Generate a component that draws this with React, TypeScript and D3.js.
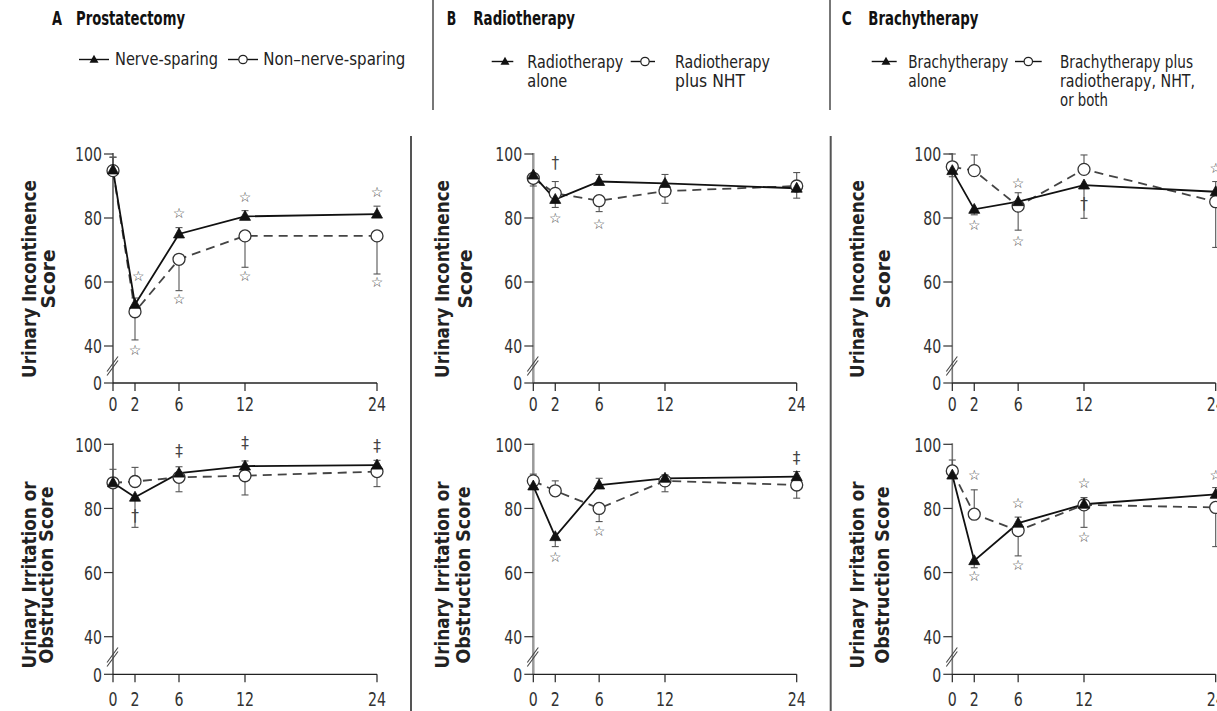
import React from "react";
import * as d3 from "d3";

// ---------- data ----------
const months = [0, 2, 6, 12, 24];
const yTickValues = [0, 40, 60, 80, 100];

// Panel A – Prostatectomy (triangle = nerve-sparing, circle = non-nerve-sparing)
const aIncTri = [95, 53, 75, 80.5, 81.2];
const aIncTriErr = [99, 55, 77, 82.3, 83.7];
const aIncCirc = [94.8, 50.7, 67.1, 74.4, 74.4];
const aIncCircErr = [99, 41.9, 57.3, 64.6, 62.5];
const aIrrTri = [88, 83.5, 91, 93.2, 93.5];
const aIrrTriErr = [92.2, 74.1, 93, 94.8, 95];
const aIrrCirc = [88, 88.4, 89.7, 90.2, 91.5];
const aIrrCircErr = [null, 92.8, 85.2, 84.2, 86.8];

// Panel B – Radiotherapy (triangle = alone, circle = plus NHT)
const bIncTri = [93.4, 85.8, 91.4, 90.8, 89.3];
const bIncTriErr = [null, 83.3, 93.6, 93.6, 86.2];
const bIncCirc = [92.4, 87.7, 85.4, 88.4, 90];
const bIncCircErr = [90, 91.4, 82, 84.6, 94.2];
const bIrrTri = [87, 71.2, 87.3, 89.4, 89.9];
const bIrrTriErr = [null, 68.1, 89.4, 90.5, 91.5];
const bIrrCirc = [88.6, 85.5, 80, 88.6, 87.3];
const bIrrCircErr = [90.7, 88.6, 75.9, 85.2, 83.2];

// Panel C – Brachytherapy (triangle = alone, circle = plus radiotherapy/NHT)
const cIncTri = [94.8, 82.7, 85.1, 90.3, 88.2];
const cIncTriErr = [92.9, 81, 87.9, 79.9, 91.4];
const cIncCirc = [96.0, 94.8, 83.7, 95.2, 85.1];
const cIncCircErr = [100, 99.7, 76.2, 99.7, 70.8];
const cIrrTri = [90.4, 63.7, 75.4, 81.3, 84.4];
const cIrrTriErr = [null, 61.5, 77.3, 83.4, 86.5];
const cIrrCirc = [91.7, 78.2, 73.1, 81.1, 80.3];
const cIrrCircErr = [95.1, 85.8, 65.2, 74.1, 68.1];

// significance marks: month position, value position, symbol
const aIncMarks = [
  { m: 2.3, v: 62, s: "*" }, { m: 2, v: 35.7, s: "*" },
  { m: 6, v: 81.6, s: "*" }, { m: 6, v: 54.7, s: "*" },
  { m: 12, v: 86.7, s: "*" }, { m: 12, v: 62, s: "*" },
  { m: 24, v: 88, s: "*" }, { m: 24, v: 60.1, s: "*" },
];
const aIrrMarks = [
  { m: 2, v: 77.6, s: "†" }, { m: 6, v: 98, s: "‡" },
  { m: 12, v: 100.3, s: "‡" }, { m: 24, v: 99.5, s: "‡" },
];
const bIncMarks = [
  { m: 2, v: 97.2, s: "†" }, { m: 2, v: 79.9, s: "*" }, { m: 6, v: 78, s: "*" },
];
const bIrrMarks = [
  { m: 2, v: 65, s: "*" }, { m: 6, v: 73.1, s: "*" }, { m: 24, v: 95.6, s: "‡" },
];
const cIncMarks = [
  { m: 2, v: 77.8, s: "*" }, { m: 6, v: 91, s: "*" }, { m: 6, v: 72.8, s: "*" },
  { m: 12, v: 84.4, s: "†" }, { m: 24, v: 95.5, s: "*" },
];
const cIrrMarks = [
  { m: 2, v: 58.8, s: "*" }, { m: 2, v: 90.4, s: "*" },
  { m: 6, v: 81.6, s: "*" }, { m: 6, v: 62.4, s: "*" },
  { m: 12, v: 87.9, s: "*" }, { m: 12, v: 71.2, s: "*" },
  { m: 24, v: 90.4, s: "*" },
];

const incLabel = ["Urinary Incontinence", "Score"];
const irrLabel = ["Urinary Irritation or", "Obstruction Score"];

// ---------- layout ----------
const FONT = "'Liberation Sans Narrow', 'Arial Narrow', 'DejaVu Sans Condensed', 'Liberation Sans', sans-serif";

const columns = [
  { x0: 113, x1: 377, axisColor: "#333", axisW: 1.3, lab: [[36, 55], [36, 52.5]] },
  { x0: 533.3, x1: 796.7, axisColor: "#9a9a9a", axisW: 2.5, lab: [[448.5, 471.7], [449, 470]] },
  { x0: 952.3, x1: 1215.7, axisColor: "#777", axisW: 1.6, lab: [[864, 890], [864, 889]] },
];
const rows = [
  { y0: 383, y40: 346, y100: 154, tickBase: 411, labelCy: 279 },
  { y0: 674.3, y40: 636.7, y100: 444.3, tickBase: 706, labelCy: 575 },
];

type Mark = { m: number; v: number; s: string };

function triPath(cx: number, cy: number, s: number) {
  const h = s * 0.9;
  return `M${cx},${cy - h * 0.6}L${cx + s / 2},${cy + h * 0.4}L${cx - s / 2},${cy + h * 0.4}Z`;
}

function Panel(props: {
  ci: number; ri: number;
  tri: number[]; triErr: (number | null)[];
  circ: number[]; circErr: (number | null)[];
  marks: Mark[]; label: string[]; labelLens: number[];
}) {
  const col = columns[props.ci];
  const row = rows[props.ri];
  const x = d3.scaleLinear().domain([0, 24]).range([col.x0, col.x1]);
  const y = d3.scaleLinear().domain([0, 40, 100]).range([row.y0, row.y40, row.y100]);
  const line = d3.line<number>().x((_, i) => x(months[i])).y((d) => y(d));
  const lab = col.lab[props.ri];
  const cy = (row.y40 + row.y0) / 2 + 1;
  return (
    <g>
      {/* y label */}
      {props.label.map((t, i) => (
        <text key={t} transform={`translate(${lab[i]},${row.labelCy}) rotate(-90)`}
          textAnchor="middle" fontFamily={FONT} fontWeight="bold" fontSize={19} fill="#222"
          textLength={props.labelLens[i]} lengthAdjust="spacingAndGlyphs">{t}</text>
      ))}
      {/* y axis */}
      <line x1={col.x0} x2={col.x0} y1={row.y0} y2={row.y100 - 1} stroke={col.axisColor} strokeWidth={col.axisW} />
      {yTickValues.map((v) => (
        <g key={v}>
          <line x1={col.x0 - 9} x2={col.x0} y1={y(v)} y2={y(v)} stroke="#333" strokeWidth={1.2} />
          <text x={col.x0 - 11} y={y(v)} dy="0.36em" textAnchor="end" fontFamily={FONT} fontSize={20} fill="#333"
            textLength={String(v).length * 9} lengthAdjust="spacingAndGlyphs">{v}</text>
        </g>
      ))}
      {/* axis break */}
      <line x1={col.x0 - 6} y1={cy + 6} x2={col.x0 + 5} y2={cy - 9} stroke="#444" strokeWidth={1.1} />
      <line x1={col.x0 - 6} y1={cy + 10} x2={col.x0 + 5} y2={cy - 5} stroke="#444" strokeWidth={1.1} />
      {/* x axis */}
      <line x1={col.x0} x2={col.x1} y1={row.y0} y2={row.y0} stroke="#222" strokeWidth={1.3} />
      {months.map((m) => (
        <g key={m}>
          <line x1={x(m)} x2={x(m)} y1={row.y0} y2={row.y0 + 8} stroke="#222" strokeWidth={1.2} />
          <text x={x(m)} y={row.tickBase} textAnchor="middle" fontFamily={FONT} fontSize={20} fill="#333"
            textLength={String(m).length * 9} lengthAdjust="spacingAndGlyphs">{m}</text>
        </g>
      ))}
      {/* error bars */}
      {[{ v: props.circ, e: props.circErr }, { v: props.tri, e: props.triErr }].map((s, si) =>
        s.v.map((v, i) => {
          const e = s.e[i];
          if (e === null || e === undefined) return null;
          return (
            <g key={`${si}-${i}`}>
              <line x1={x(months[i])} x2={x(months[i])} y1={y(v)} y2={y(e)} stroke="#555" strokeWidth={1.1} />
              <line x1={x(months[i]) - 3.5} x2={x(months[i]) + 3.5} y1={y(e)} y2={y(e)} stroke="#555" strokeWidth={1.1} />
            </g>
          );
        })
      )}
      {/* lines */}
      <path d={line(props.circ) || ""} fill="none" stroke="#444" strokeWidth={1.8} strokeDasharray="9,6" />
      <path d={line(props.tri) || ""} fill="none" stroke="#111" strokeWidth={1.8} />
      {/* markers */}
      {props.circ.map((v, i) => (
        <circle key={i} cx={x(months[i])} cy={y(v)} r={6} fill="#fff" stroke="#333" strokeWidth={1.3} />
      ))}
      {props.tri.map((v, i) => (
        <path key={i} d={triPath(x(months[i]), y(v), 11)} fill="#111" stroke="#111" strokeWidth={0.8} />
      ))}
      {/* significance marks */}
      {props.marks.map((mk, i) => (
        <text key={i} x={x(mk.m)} y={y(mk.v)} dominantBaseline="central" textAnchor="middle"
          fontFamily={mk.s === "*" ? "'DejaVu Sans', sans-serif" : FONT}
          fontSize={mk.s === "*" ? 14 : 17} fill="#444">{mk.s === "*" ? "☆" : mk.s}</text>
      ))}
    </g>
  );
}

function Legend(props: { lx0: number; lx1: number; mx: number; kind: "tri" | "circ"; tx: number; lines: string[]; lens: number[]; base: number; ly: number }) {
  return (
    <g>
      <line x1={props.lx0} x2={props.lx1} y1={props.ly} y2={props.ly} stroke="#111" strokeWidth={1.4} />
      {props.kind === "tri" ? (
        <path d={triPath(props.mx, props.ly, 9)} fill="#111" />
      ) : (
        <circle cx={props.mx} cy={props.ly} r={4.2} fill="#fff" stroke="#222" strokeWidth={1.2} />
      )}
      {props.lines.map((t, i) => (
        <text key={t} x={props.tx} y={props.base + i * 19.2} fontFamily={FONT} fontSize={18} fill="#222"
          textLength={props.lens[i]} lengthAdjust="spacingAndGlyphs">{t}</text>
      ))}
    </g>
  );
}

function Title(props: { lx: number; letter: string; tx: number; text: string; len: number; letterLen: number }) {
  return (
    <g fontFamily={FONT} fontWeight="bold" fontSize={20} fill="#111">
      <text x={props.lx} y={25} textLength={props.letterLen} lengthAdjust="spacingAndGlyphs">{props.letter}</text>
      <text x={props.tx} y={25} textLength={props.len} lengthAdjust="spacingAndGlyphs">{props.text}</text>
    </g>
  );
}

export default function App() {
  return (
    <div style={{ position: "absolute", left: 0, top: 0 }}>
      <svg width={1217} height={711} style={{ display: "block", background: "#fff" }}>
        {/* header */}
        <Title lx={52} letter="A" letterLen={10} tx={76} text="Prostatectomy" len={109} />
        <Title lx={446.7} letter="B" letterLen={9.5} tx={473.3} text="Radiotherapy" len={101.7} />
        <Title lx={841.7} letter="C" letterLen={10} tx={868.3} text="Brachytherapy" len={110} />

        <Legend lx0={79} lx1={109} mx={94} kind="tri" tx={115} lines={["Nerve-sparing"]} lens={[103]} base={65} ly={59.5} />
        <Legend lx0={228} lx1={258} mx={243} kind="circ" tx={263.3} lines={["Non–nerve-sparing"]} lens={[142]} base={65} ly={59.5} />
        <Legend lx0={491.7} lx1={513.3} mx={505} kind="tri" tx={527.3} lines={["Radiotherapy", "alone"]} lens={[96, 40]} base={68} ly={61.5} />
        <Legend lx0={630.7} lx1={655} mx={645} kind="circ" tx={675} lines={["Radiotherapy", "plus NHT"]} lens={[95, 70]} base={68} ly={61.5} />
        <Legend lx0={871.7} lx1={896.7} mx={886} kind="tri" tx={908.3} lines={["Brachytherapy", "alone"]} lens={[100, 38]} base={68} ly={61.5} />
        <Legend lx0={1015} lx1={1041.7} mx={1028.3} kind="circ" tx={1060} lines={["Brachytherapy plus", "radiotherapy, NHT,", "or both"]} lens={[133, 135, 48]} base={68} ly={61.5} />

        {/* separators */}
        <line x1={433} x2={433} y1={0} y2={110} stroke="#555" strokeWidth={1.6} />
        <line x1={830} x2={830} y1={0} y2={110} stroke="#555" strokeWidth={1.6} />
        <line x1={411} x2={411} y1={136} y2={711} stroke="#555" strokeWidth={2} />
        <line x1={830.7} x2={830.7} y1={136} y2={711} stroke="#555" strokeWidth={2} />

        <Panel ci={0} ri={0} tri={aIncTri} triErr={aIncTriErr} circ={aIncCirc} circErr={aIncCircErr} marks={aIncMarks} label={incLabel} labelLens={[198, 59]} />
        <Panel ci={0} ri={1} tri={aIrrTri} triErr={aIrrTriErr} circ={aIrrCirc} circErr={aIrrCircErr} marks={aIrrMarks} label={irrLabel} labelLens={[187, 177]} />
        <Panel ci={1} ri={0} tri={bIncTri} triErr={bIncTriErr} circ={bIncCirc} circErr={bIncCircErr} marks={bIncMarks} label={incLabel} labelLens={[198, 59]} />
        <Panel ci={1} ri={1} tri={bIrrTri} triErr={bIrrTriErr} circ={bIrrCirc} circErr={bIrrCircErr} marks={bIrrMarks} label={irrLabel} labelLens={[187, 177]} />
        <Panel ci={2} ri={0} tri={cIncTri} triErr={cIncTriErr} circ={cIncCirc} circErr={cIncCircErr} marks={cIncMarks} label={incLabel} labelLens={[198, 59]} />
        <Panel ci={2} ri={1} tri={cIrrTri} triErr={cIrrTriErr} circ={cIrrCirc} circErr={cIrrCircErr} marks={cIrrMarks} label={irrLabel} labelLens={[187, 177]} />
      </svg>
    </div>
  );
}
